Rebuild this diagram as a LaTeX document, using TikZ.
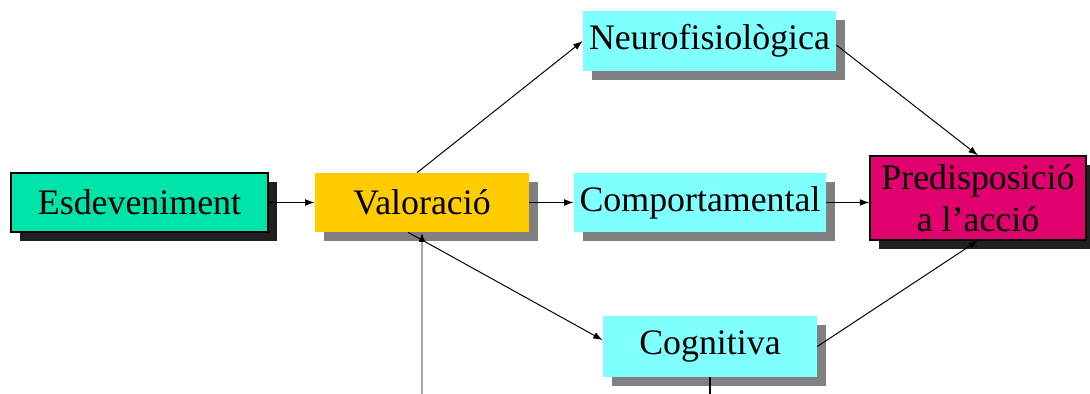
\documentclass[tikz,border=0pt]{standalone}
\usepackage{fontspec}
\setmainfont{Liberation Serif}
\usepackage{tikz}
\usetikzlibrary{arrows.meta, positioning, shadows}
\usepackage{xcolor}

\definecolor{esdcol}{HTML}{00E4AA}
\definecolor{valcol}{HTML}{FFCC00}
\definecolor{respcol}{HTML}{80FFFF}
\definecolor{predcol}{HTML}{E0006E}
\definecolor{darkshadow}{HTML}{202020}
\definecolor{greyshadow}{HTML}{808080}
\definecolor{feedline}{HTML}{A8A8A8}

\begin{document}
\begin{tikzpicture}[
    block/.style={rectangle, inner sep=0pt, align=center, font=\fontsize{25.5}{30}\selectfont,
        drop shadow={shadow xshift=0.225cm, shadow yshift=-0.225cm, fill=greyshadow, opacity=1}},
    darkblock/.style={block, draw, line width=0.8pt,
        drop shadow={shadow xshift=0.225cm, shadow yshift=-0.225cm, fill=darkshadow, opacity=1}},
    arrow/.style={-{Latex[length=2.4mm, width=1.7mm]}, line width=0.7pt},
]
\useasboundingbox (0,0) rectangle (27.25,9.85);

\node[darkblock, fill=esdcol,  minimum width=6.425cm, minimum height=1.475cm] (esd)  at (3.4875,4.7875) {Esdeveniment};
\node[block,     fill=valcol,  minimum width=5.35cm,  minimum height=1.475cm] (val)  at (10.55,4.7875)  {Valoració};
\node[block,     fill=respcol, minimum width=6.325cm, minimum height=1.5cm]   (neuro) at (17.7375,8.825) {Neurofisiològica};
\node[block,     fill=respcol, minimum width=6.3cm,   minimum height=1.475cm] (comp) at (17.5,4.7875)    {Comportamental};
\node[block,     fill=respcol, minimum width=5.35cm,  minimum height=1.525cm] (cog)  at (17.75,1.1875)   {Cognitiva};
\node[darkblock, fill=predcol, minimum width=5.4cm,   minimum height=2.1cm]   (pred) at (24.45,4.9)      {Predisposició\\a l’acció};

\coordinate (feedin) at (10.55,0);
\coordinate (cogout) at (17.75,0);

% Main flow
\draw[arrow] (esd)  -- (val);
\draw[arrow] (val)  -- (comp);
\draw[arrow] (comp.east) -- (comp.east -| pred.west);

% Responses
\draw[arrow] ([xshift=-0.125cm]val.north) -- (neuro.west);
\draw[arrow] ([xshift=-0.35cm]val.south)  -- ([yshift=0.16cm]cog.west);
\draw[arrow] ([yshift=-0.1cm]neuro.east)  -- (pred.north);
\draw[arrow] (cog.east) -- (pred.south);

% Lines from below
\draw[-{Latex[length=2.4mm, width=1.7mm, color=black]}, draw=feedline, line width=1.3pt] (feedin) -- (val.south);
\draw[line width=0.8pt] (cog.south) -- (cogout);

\end{tikzpicture}
\end{document}
